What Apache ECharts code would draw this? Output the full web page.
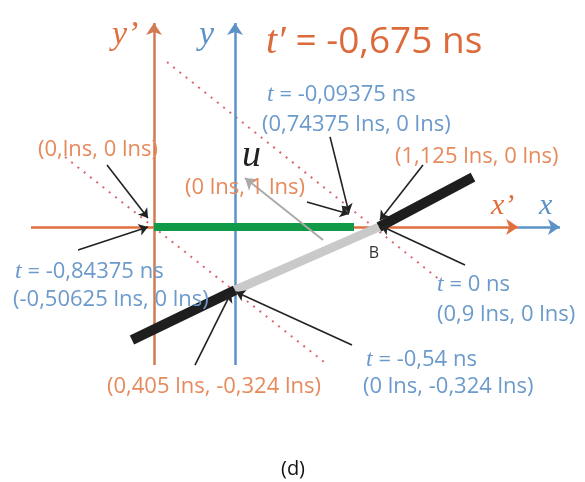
<!DOCTYPE html>
<html>
<head>
<meta charset="utf-8">
<script src="https://cdn.jsdelivr.net/npm/echarts@6/dist/echarts.min.js"></script>
<style>html,body{margin:0;padding:0;background:#fff}#c{width:585px;height:482px}</style>
</head>
<body>
<div id="c"></div>
<script>
// ---- data (units: lns) ----
const B = [0.9, 0];
const junction = [0, -0.324];
const yPrimeAxis = [[-0.50625, -0.708], [-0.50625, 1.046]];
const yAxisLine = [[0, -0.708], [0, 1.046]];
const xPrimeAxis = [[-1.275, 0], [1.77, 0]];
const xAxisLine = [[1.77, 0], [2.031, 0]];
const greenSegment = [[-0.50625, 0], [0.74375, 0]];
const graySegment = [junction, B];
const blackLower = [[-0.644, -0.579], junction];
const blackUpper = [B, [1.4875, 0.256]];
const uVector = [[0.55, -0.067], [0.0625, 0.251]];
const dottedUpper = [[-0.425, 0.846], [1.281, -0.272]];
const dottedLower = [[-1.0625, 0.359], [0.581, -0.708]];
const pointers = [
  [[-0.8, 0.318], [-0.544, 0.046]],
  [[-0.981, -0.118], [-0.544, 0]],
  [[-0.25, -0.708], [-0.025, -0.338]],
  [[0.731, -0.605], [0.006, -0.333]],
  [[0.594, 0.462], [0.7125, 0.072]],
  [[0.45, 0.128], [0.7125, 0.067]],
  [[1.175, 0.318], [0.906, 0.036]],
  [[1.4375, -0.195], [0.9125, 0.005]]
];
// ---- texts ----
const titleText = ['t′', ' = -0,675 ns'];
const blueLabels = [
  ['t', ' = -0,09375 ns'],
  [null, '(0,74375 lns, 0 lns)'],
  ['t', ' = -0,84375 ns'],
  [null, '(-0,50625 lns, 0 lns)'],
  ['t', ' = 0 ns'],
  [null, '(0,9 lns, 0 lns)'],
  ['t', ' = -0,54 ns'],
  [null, '(0 lns, -0,324 lns)']
];
const orangeLabels = ['(0,lns, 0 lns)', '(0 lns, 1 lns)', '(1,125 lns, 0 lns)', '(0,405 lns, -0,324 lns)'];
const axisNames = { yPrime: 'y’', y: 'y', xPrime: 'x’', x: 'x', u: 'u' };
const pointLabel = 'B';
const caption = '(d)';

// ---- layout / styles ----
const ORANGE = '#e0703e', ORANGE_V = '#d27a52', BLUE = '#5b93c8', TXT_OR = '#e68a5c', TXT_BL = '#6b9acb';
const SANS = '"Open Sans", "Liberation Sans", sans-serif';
const SERIF = '"Liberation Serif", "DejaVu Serif", serif';
const bluePos = [[267, 93], [262, 124], [15, 270], [13, 299], [437, 283], [437, 314], [366, 358], [363, 386]];
const orangePos = [[38, 150], [185, 188], [395, 157], [107, 387]];

function seg(points, color, width, z) {
  return { type: 'line', data: points, symbol: 'none', silent: true, z: z || 2,
    lineStyle: { color: color, width: width, cap: 'butt' } };
}
function arrows(list, color, width, size, z) {
  return { type: 'lines', coordinateSystem: 'cartesian2d', silent: true, z: z || 3,
    symbol: ['none', 'arrow'], symbolSize: size,
    lineStyle: { color: color, width: width, opacity: 1, curveness: 0 },
    data: list.map(c => ({ coords: c })) };
}
function dotted(points) {
  return { type: 'line', data: points, symbol: 'none', silent: true, z: 1,
    lineStyle: { color: '#d9676c', width: 2, type: [2, 6] } };
}
function richLabel(parts, pos, color, size, isize) {
  const t = parts[0] ? '{i|' + parts[0] + '}{n|' + parts[1] + '}' : '{n|' + parts[1] + '}';
  return { type: 'text', left: pos[0], top: pos[1] - size * 0.48, z: 10,
    style: { text: t, rich: {
      i: { fontFamily: SERIF, fontStyle: 'italic', fontSize: isize || size + 2, fill: color, color: color },
      n: { fontFamily: SANS, fontSize: size, fill: color, color: color } } } };
}
function plain(text, x, y, color, size, family, style, align) {
  return { type: 'text', x: x, y: y, z: 10,
    style: { text: text, fill: color, font: (style || '') + ' ' + size + 'px ' + family,
      textAlign: align || 'left', textVerticalAlign: 'middle' } };
}

const graphics = [];
blueLabels.forEach((p, i) => graphics.push(richLabel(p, bluePos[i], TXT_BL, 22)));
orangeLabels.forEach((t, i) => graphics.push(plain(t, orangePos[i][0], orangePos[i][1], TXT_OR, 22, SANS)));
graphics.push(richLabel(titleText, [266, 40], '#dc6a3a', 37, 40));
graphics.push(plain(axisNames.yPrime, 112, 35, ORANGE, 34, SERIF, 'italic'));
graphics.push(plain(axisNames.y, 199, 35, BLUE, 34, SERIF, 'italic'));
graphics.push(plain(axisNames.xPrime, 491, 206, ORANGE, 30, SERIF, 'italic'));
graphics.push(plain(axisNames.x, 539, 206, BLUE, 30, SERIF, 'italic'));
graphics.push(plain(axisNames.u, 242, 156, '#222', 38, SERIF, 'italic'));
graphics.push(plain(pointLabel, 374, 253, '#333', 16, SANS, '', 'center'));
graphics.push(plain(caption, 293, 469, '#111', 20, SANS, '', 'center'));

const chart = echarts.init(document.getElementById('c'), null, { renderer: 'canvas' });
chart.setOption({
  backgroundColor: '#ffffff',
  animation: false,
  grid: { left: 15, width: 560, top: 2.75, height: 468 },
  xAxis: { type: 'value', min: -1.375, max: 2.125, show: false, splitLine: { show: false } },
  yAxis: { type: 'value', min: -1.25, max: 1.15, show: false, splitLine: { show: false } },
  series: [
    dotted(dottedUpper),
    dotted(dottedLower),
    arrows([xAxisLine], BLUE, 2.5, [10, 12], 2),
    arrows([xPrimeAxis], ORANGE, 2.5, [10, 12], 2),
    arrows([yPrimeAxis], ORANGE_V, 2.5, [10, 12], 2),
    arrows([yAxisLine], BLUE, 2.5, [10, 12], 2),
    seg(greenSegment, '#119a48', 8, 4),
    seg(graySegment, '#c9c9c9', 9, 4),
    arrows([uVector], '#aaaaaa', 2, [9, 11], 5),
    seg(blackLower, '#1e1e1e', 10, 5),
    seg(blackUpper, '#1e1e1e', 10, 5),
    arrows(pointers, '#222222', 1.6, [7, 9], 6)
  ],
  graphic: graphics
});
</script>
</body>
</html>
